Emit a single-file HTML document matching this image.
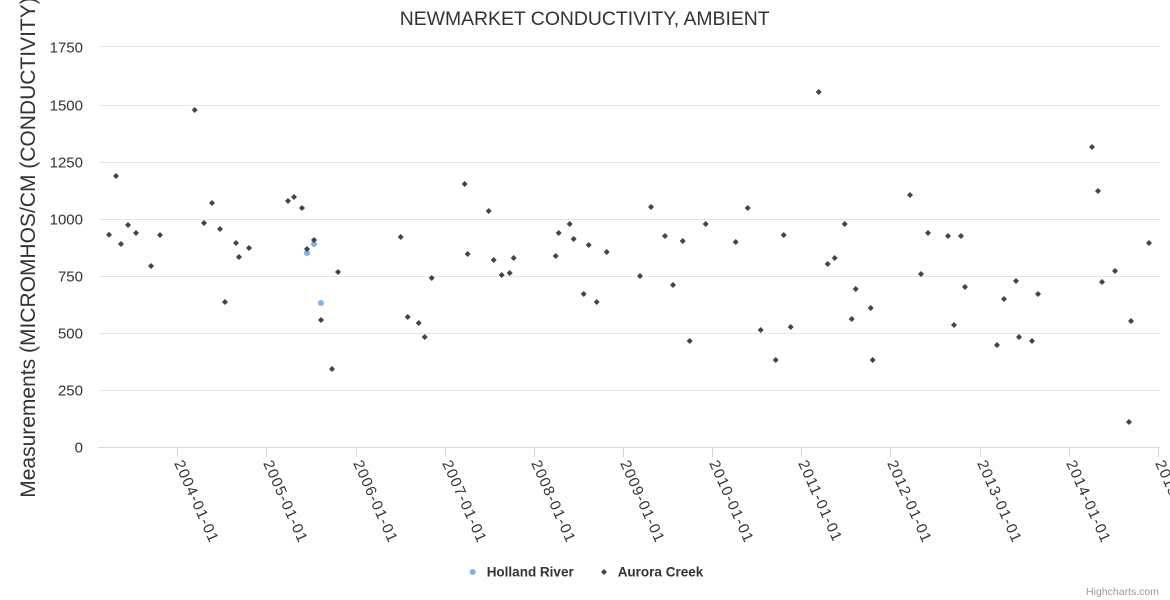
<!DOCTYPE html>
<html>
<head>
<meta charset="utf-8">
<style>
  html, body { margin:0; padding:0; background:#ffffff; }
  svg { display:block; font-family:"Liberation Sans", "DejaVu Sans", sans-serif; }
</style>
</head>
<body>
<svg width="1170" height="600" viewBox="0 0 1170 600" xmlns="http://www.w3.org/2000/svg">
  <defs>
    <path id="d" d="M0 -3 L3 0 L0 3 L-3 0 Z"/>
  </defs>
  <rect x="0" y="0" width="1170" height="600" fill="#ffffff"/>

  <text x="584.7" y="25" text-anchor="middle" font-size="19.4" fill="#333333">NEWMARKET CONDUCTIVITY, AMBIENT</text>

  <g stroke="#e6e6e6" stroke-width="1" fill="none">
    <path d="M99 46.5 H1160"/>
    <path d="M99 105.5 H1160"/>
    <path d="M99 162.5 H1160"/>
    <path d="M99 219.5 H1160"/>
    <path d="M99 276.5 H1160"/>
    <path d="M99 333.5 H1160"/>
    <path d="M99 390.5 H1160"/>
  </g>
  <path d="M99 447.5 H1160" stroke="#ccd6eb" stroke-width="1"/>
  <g stroke="#ccd6eb" stroke-width="1">
    <path d="M177.5 447 V457"/>
    <path d="M266.5 447 V457"/>
    <path d="M356.5 447 V457"/>
    <path d="M445.5 447 V457"/>
    <path d="M534.5 447 V457"/>
    <path d="M623.5 447 V457"/>
    <path d="M712.5 447 V457"/>
    <path d="M801.5 447 V457"/>
    <path d="M890.5 447 V457"/>
    <path d="M980.5 447 V457"/>
    <path d="M1069.5 447 V457"/>
    <path d="M1158.5 447 V457"/>
  </g>

  <g font-size="15" fill="#333333" text-anchor="end">
    <text x="83" y="52.5">1750</text>
    <text x="83" y="110.5">1500</text>
    <text x="83" y="167.5">1250</text>
    <text x="83" y="224.5">1000</text>
    <text x="83" y="281.5">750</text>
    <text x="83" y="338.5">500</text>
    <text x="83" y="395.5">250</text>
    <text x="83" y="452.5">0</text>
  </g>

  <text transform="translate(35,244) rotate(-90)" text-anchor="middle" font-size="21" fill="#333333">Measurements (MICROMHOS/CM (CONDUCTIVITY))</text>

  <g font-size="15" fill="#333333" letter-spacing="1.2">
    <text transform="translate(174,463) rotate(66)">2004-01-01</text>
    <text transform="translate(263,463) rotate(66)">2005-01-01</text>
    <text transform="translate(353,463) rotate(66)">2006-01-01</text>
    <text transform="translate(442,463) rotate(66)">2007-01-01</text>
    <text transform="translate(531,463) rotate(66)">2008-01-01</text>
    <text transform="translate(620,463) rotate(66)">2009-01-01</text>
    <text transform="translate(709,463) rotate(66)">2010-01-01</text>
    <text transform="translate(798,463) rotate(66)">2011-01-01</text>
    <text transform="translate(887,463) rotate(66)">2012-01-01</text>
    <text transform="translate(977,463) rotate(66)">2013-01-01</text>
    <text transform="translate(1066,463) rotate(66)">2014-01-01</text>
    <text transform="translate(1155,463) rotate(66)">2015-01-01</text>
  </g>

  <g fill="#7cb5ec">
    <circle cx="307" cy="253" r="3"/>
    <circle cx="314" cy="244" r="3"/>
    <circle cx="321" cy="303" r="3"/>
  </g>

  <g fill="#434348">
    <use href="#d" x="109" y="234.7"/>
    <use href="#d" x="116" y="176"/>
    <use href="#d" x="121" y="244"/>
    <use href="#d" x="128" y="225"/>
    <use href="#d" x="136" y="233"/>
    <use href="#d" x="151" y="266"/>
    <use href="#d" x="160" y="235"/>
    <use href="#d" x="194.7" y="110"/>
    <use href="#d" x="204" y="223"/>
    <use href="#d" x="212" y="203"/>
    <use href="#d" x="220" y="229"/>
    <use href="#d" x="225" y="302"/>
    <use href="#d" x="236" y="243"/>
    <use href="#d" x="239" y="257"/>
    <use href="#d" x="249" y="248"/>
    <use href="#d" x="288" y="201"/>
    <use href="#d" x="294" y="197"/>
    <use href="#d" x="302" y="208"/>
    <use href="#d" x="307" y="249"/>
    <use href="#d" x="314" y="240"/>
    <use href="#d" x="321" y="320"/>
    <use href="#d" x="332" y="369"/>
    <use href="#d" x="338" y="272"/>
    <use href="#d" x="400.7" y="237"/>
    <use href="#d" x="407.7" y="317"/>
    <use href="#d" x="418.7" y="323"/>
    <use href="#d" x="424.7" y="337"/>
    <use href="#d" x="431.7" y="278"/>
    <use href="#d" x="464.7" y="184"/>
    <use href="#d" x="467.7" y="254"/>
    <use href="#d" x="488.7" y="211"/>
    <use href="#d" x="493.7" y="260"/>
    <use href="#d" x="501.7" y="275"/>
    <use href="#d" x="509.7" y="273"/>
    <use href="#d" x="513.7" y="258"/>
    <use href="#d" x="555.7" y="256"/>
    <use href="#d" x="558.7" y="233"/>
    <use href="#d" x="569.7" y="224"/>
    <use href="#d" x="573.7" y="239"/>
    <use href="#d" x="583.7" y="294"/>
    <use href="#d" x="588.7" y="245"/>
    <use href="#d" x="596.7" y="302"/>
    <use href="#d" x="606.7" y="252"/>
    <use href="#d" x="640" y="276"/>
    <use href="#d" x="651" y="207"/>
    <use href="#d" x="665" y="236"/>
    <use href="#d" x="673" y="285"/>
    <use href="#d" x="682.7" y="241"/>
    <use href="#d" x="689.7" y="341"/>
    <use href="#d" x="705.7" y="224"/>
    <use href="#d" x="735.7" y="242"/>
    <use href="#d" x="747.7" y="208"/>
    <use href="#d" x="760.7" y="330"/>
    <use href="#d" x="775.7" y="360"/>
    <use href="#d" x="783.7" y="235"/>
    <use href="#d" x="790.7" y="327"/>
    <use href="#d" x="818.7" y="92"/>
    <use href="#d" x="827.7" y="264"/>
    <use href="#d" x="834.7" y="258"/>
    <use href="#d" x="844.7" y="224"/>
    <use href="#d" x="851.7" y="319"/>
    <use href="#d" x="855.7" y="289"/>
    <use href="#d" x="870.7" y="308"/>
    <use href="#d" x="872.7" y="360"/>
    <use href="#d" x="910" y="195"/>
    <use href="#d" x="921" y="274"/>
    <use href="#d" x="928" y="233"/>
    <use href="#d" x="948" y="236"/>
    <use href="#d" x="954" y="325"/>
    <use href="#d" x="961" y="236"/>
    <use href="#d" x="965" y="287"/>
    <use href="#d" x="997" y="345"/>
    <use href="#d" x="1004" y="299"/>
    <use href="#d" x="1016" y="281"/>
    <use href="#d" x="1019" y="337"/>
    <use href="#d" x="1032" y="341"/>
    <use href="#d" x="1038" y="294"/>
    <use href="#d" x="1092" y="147"/>
    <use href="#d" x="1098" y="191"/>
    <use href="#d" x="1102" y="282"/>
    <use href="#d" x="1115" y="271"/>
    <use href="#d" x="1129" y="422"/>
    <use href="#d" x="1131" y="321"/>
    <use href="#d" x="1149" y="243"/>
  </g>

  <circle cx="472.7" cy="572" r="3" fill="#7cb5ec"/>
  <text x="486.7" y="576.5" font-size="13.5" font-weight="bold" fill="#333333">Holland River</text>
  <use href="#d" x="604" y="572" fill="#434348"/>
  <text x="617.7" y="576.5" font-size="13.5" font-weight="bold" fill="#333333">Aurora Creek</text>

  <text x="1159" y="595" text-anchor="end" font-size="10.5" fill="#999999">Highcharts.com</text>
</svg>
</body>
</html>
